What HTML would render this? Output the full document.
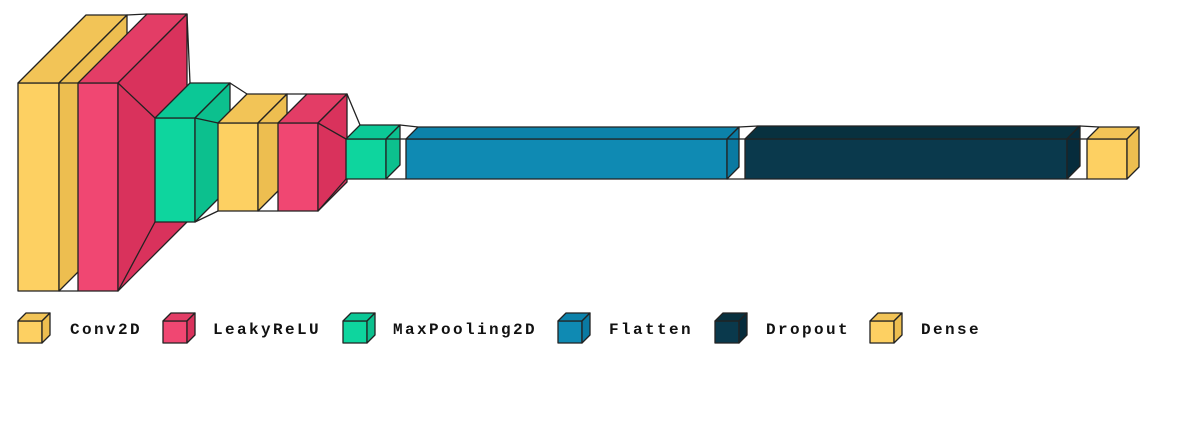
<!DOCTYPE html>
<html><head><meta charset="utf-8"><style>
html,body{margin:0;padding:0;background:#fff;width:1196px;height:428px;overflow:hidden}
text{font-family:"Liberation Mono",monospace;font-weight:bold;font-size:16px;letter-spacing:2.4px;fill:#111}
</style></head><body>
<svg id="s" width="1196" height="428" xmlns="http://www.w3.org/2000/svg">
<g id="g" stroke="#222" stroke-width="1.3" stroke-linejoin="round"></g>
<text x="70" y="334">Conv2D</text>
<text x="213" y="334">LeakyReLU</text>
<text x="393" y="334">MaxPooling2D</text>
<text x="609" y="334">Flatten</text>
<text x="766" y="334">Dropout</text>
<text x="921" y="334">Dense</text>
</svg>
<script>
var C={y:["#FDD062","#EDBE50","#F2C457"],r:["#F04772","#D9325C","#E33D66"],g:["#0ED59E","#0CC08E","#0BC896"],b:["#0F8AB3","#0A7AA2","#0C82AA"],d:["#0A394C","#062C3C","#08313F"]};
var g=document.getElementById('g'),h='';
function P(pts,f){return '<polygon points="'+pts.map(p=>p.join(',')).join(' ')+'" fill="'+f+'"/>';}
function L(a,b){return '<line x1="'+a[0]+'" y1="'+a[1]+'" x2="'+b[0]+'" y2="'+b[1]+'"/>';}
function box(x1,y1,x2,y2,d,c){var k=C[c];
 return P([[x1,y1],[x2,y1],[x2,y2],[x1,y2]],k[0])+P([[x1,y1],[x1+d,y1-d],[x2+d,y1-d],[x2,y1]],k[2])+P([[x2,y1],[x2+d,y1-d],[x2+d,y2-d],[x2,y2]],k[1]);}
var B=[[18,83,59,291,68,'y'],[78,83,118,291,69,'r'],[155,118,195,222,35,'g'],[218,123,258,211,29,'y'],[278,123,318,211,29,'r'],[346,139,386,179,14,'g'],[406,139,727,179,12,'b'],[745,139,1067,179,13,'d'],[1087,139,1127,179,12,'y']];
for(var i=0;i<B.length;i++){var b=B[i];h+=box.apply(null,b);
 if(i+1<B.length){var n=B[i+1];
  h+=L([b[2],b[1]],[n[0],n[1]])+L([b[2],b[3]],[n[0],n[3]])+L([b[2]+b[4],b[1]-b[4]],[n[0]+n[4],n[1]-n[4]]);}}
var lg=[[18,'y'],[163,'r'],[343,'g'],[558,'b'],[715,'d'],[870,'y']];
lg.forEach(function(l){h+=box(l[0],321,l[0]+24,343,8,l[1]);});
g.innerHTML=h;
</script>
</body></html>
